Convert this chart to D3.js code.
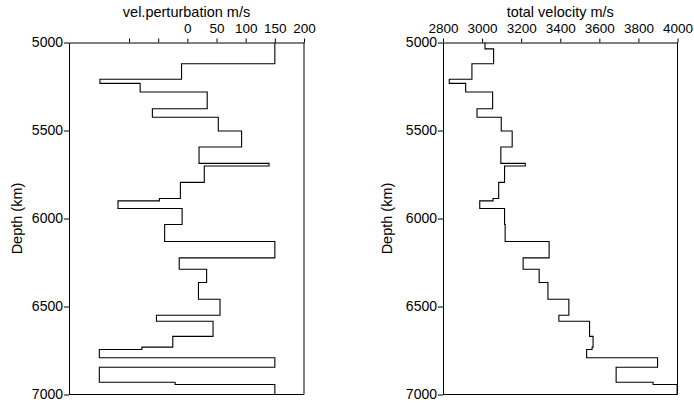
<!DOCTYPE html>
<html>
<head>
<meta charset="utf-8">
<script src="https://cdn.jsdelivr.net/npm/d3@7/dist/d3.min.js"></script>
<style>
  html, body { margin: 0; padding: 0; background: #fff; }
  svg { display: block; font-family: "Liberation Sans", Arial, sans-serif; }
</style>
</head>
<body>
<svg id="chart" width="694" height="403"></svg>
<script>
// Layer top depths (km); last entry is the bottom of the deepest layer
const layerDepths = [5000, 5036, 5121, 5209, 5232, 5281, 5376, 5425, 5503, 5594, 5687, 5702,
  5795, 5886, 5900, 5943, 6034, 6131, 6224, 6288, 6364, 6459, 6550, 6584, 6670, 6731, 6744,
  6791, 6845, 6930, 6943, 7000];
// Velocity perturbation per layer (m/s)
const perturbation = [150, 150, -10, -150, -81, 34, -60, 53, 93, 20, 140, 29, -12, -48, -119, -9,
  -39, 150, -14, 33, 19, 56, -53, 44, -25, -78, -151, 150, -151, -21, 150];
// Total velocity per layer (m/s)
const totalVelocity = [3015, 3059, 2948, 2832, 2916, 3054, 2974, 3098, 3154, 3096, 3221, 3115,
  3085, 3056, 2988, 3115, 3118, 3343, 3210, 3292, 3337, 3444, 3393, 3550, 3568, 3563, 3535,
  3898, 3686, 3875, 3998];
// Axis ticks
const depthTicks = [5000, 5500, 6000, 6500, 7000];
const pertTicks = [-100, -50, 0, 50, 100, 150, 200];
const pertLabelled = [0, 50, 100, 150, 200];
const velTicks = [2800, 3000, 3200, 3400, 3600, 3800, 4000];

const svg = d3.select("#chart");
const y = d3.scaleLinear().domain([5000, 7000]).range([42.5, 394.5]);

function panel(opts) {
  const g = svg.append("g");
  const x = d3.scaleLinear().domain(opts.domain).range(opts.range);
  const [x0, x1] = opts.range;
  const [y0, y1] = y.range();

  // step profile
  const pts = [];
  opts.values.forEach((v, i) => {
    pts.push([v, layerDepths[i]]);
    pts.push([v, layerDepths[i + 1]]);
  });
  g.append("path")
    .attr("d", d3.line().x(d => x(d[0])).y(d => y(d[1]))(pts))
    .attr("fill", "none").attr("stroke", "#000").attr("stroke-width", 1.1);

  // frame right + bottom
  g.append("line").attr("x1", x1).attr("x2", x1).attr("y1", y0).attr("y2", y1)
    .attr("stroke", "#000");
  g.append("line").attr("x1", x0).attr("x2", x1).attr("y1", y1).attr("y2", y1)
    .attr("stroke", "#000");

  // top axis
  const top = g.append("g").attr("transform", `translate(0,${y0})`)
    .call(d3.axisTop(x).tickValues(opts.ticks).tickSize(4).tickSizeOuter(0)
      .tickPadding(6)
      .tickFormat(d => opts.labelled.includes(d) ? String(d) : ""));
  top.selectAll("text").attr("font-size", 13.5).attr("fill", "#000")
    .attr("font-family", "Liberation Sans, Arial, sans-serif");
  top.selectAll("line, path").attr("stroke", "#000");

  // left axis
  const left = g.append("g").attr("transform", `translate(${x0},0)`)
    .call(d3.axisLeft(y).tickValues(depthTicks).tickSize(5).tickSizeOuter(0)
      .tickPadding(1).tickFormat(d3.format("d")));
  left.selectAll("text").attr("font-size", 14).attr("fill", "#000")
    .attr("font-family", "Liberation Sans, Arial, sans-serif");
  left.selectAll("line, path").attr("stroke", "#000");

  // titles
  g.append("text").attr("x", (x0 + x1) / 2).attr("y", 16.5)
    .attr("text-anchor", "middle").attr("font-size", 14.5).text(opts.title);
  g.append("text")
    .attr("transform", `translate(${opts.depthX},${(y0 + y1) / 2}) rotate(-90)`)
    .attr("text-anchor", "middle").attr("font-size", 14.5).text("Depth (km)");
}

panel({
  domain: [-203, 200], range: [69, 304], values: perturbation,
  ticks: pertTicks, labelled: pertLabelled,
  title: "vel.perturbation m/s", depthX: 21.5
});
panel({
  domain: [2800, 4000], range: [443, 677.5], values: totalVelocity,
  ticks: velTicks, labelled: velTicks,
  title: "total velocity m/s", depthX: 391.5
});
</script>
</body>
</html>
